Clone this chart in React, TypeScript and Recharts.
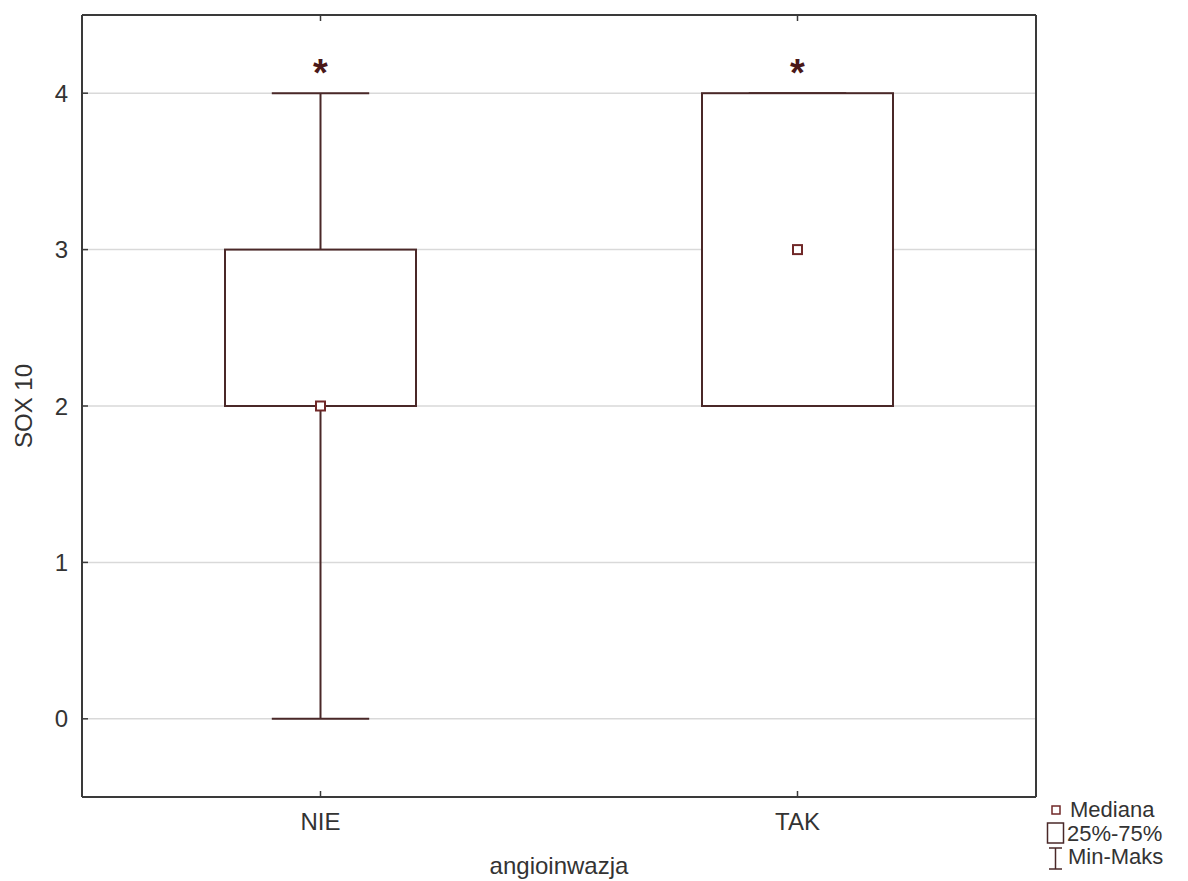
import React from 'react';
import { ComposedChart, Bar, Scatter, XAxis, YAxis, CartesianGrid } from 'recharts';

const categories = ['NIE', 'TAK'];
const minValues = [0, 2];
const q1Values = [2, 2];
const medianValues = [2, 3];
const q3Values = [3, 4];
const maxValues = [4, 4];
const significanceMarks = [4.16, 4.16];
const yTicks = [0, 1, 2, 3, 4];
const yDomain: [number, number] = [-0.5, 4.5];

const data = categories.map((name, i) => ({
  name,
  range: [minValues[i], maxValues[i]],
  min: minValues[i],
  q1: q1Values[i],
  median: medianValues[i],
  q3: q3Values[i],
  max: maxValues[i],
  star: significanceMarks[i],
}));

const FONT = 'Liberation Sans, Arial, sans-serif';
const FRAME = '#3a3a3a';
const BOX = '#4a2828';
const MED = '#702828';
const TEXT = '#333333';

const BoxShape = (props: any) => {
  const { x, y, width, height, payload } = props;
  const top = Math.min(y, y + height);
  const bottom = Math.max(y, y + height);
  const span = payload.max - payload.min;
  const unit = span > 0 ? (bottom - top) / span : 0;
  const py = (v: number) => top + (payload.max - v) * unit;
  const cx = x + width / 2;
  const cap = width * 0.51;
  const yq1 = py(payload.q1);
  const yq3 = py(payload.q3);
  return (
    <g>
      <line x1={cx} x2={cx} y1={py(payload.max)} y2={py(payload.min)} stroke={BOX} strokeWidth={2} />
      <line x1={cx - cap / 2} x2={cx + cap / 2} y1={py(payload.max)} y2={py(payload.max)} stroke={BOX} strokeWidth={2} />
      <line x1={cx - cap / 2} x2={cx + cap / 2} y1={py(payload.min)} y2={py(payload.min)} stroke={BOX} strokeWidth={2} />
      <rect x={x} y={yq3} width={width} height={yq1 - yq3} fill="#ffffff" stroke={BOX} strokeWidth={2} />
    </g>
  );
};

const MedianShape = (props: any) => {
  const { cx, cy } = props;
  const s = 9;
  return <rect x={cx - s / 2} y={cy - s / 2} width={s} height={s} fill="#ffffff" stroke={MED} strokeWidth={2} />;
};

const StarShape = (props: any) => {
  const { cx, cy } = props;
  return (
    <text x={cx} y={cy + 18} textAnchor="middle" fontFamily={FONT} fontWeight="bold" fontSize={38} fill="#4a1818">
      *
    </text>
  );
};

const tickStyle = { fill: TEXT, fontSize: 24, fontFamily: FONT };

export default function App() {
  return (
    <div style={{ position: 'absolute', left: 0, top: 0, width: 1188, height: 881, background: '#ffffff' }}>
      <ComposedChart width={1188} height={881} data={data} margin={{ top: 14, right: 151, bottom: 0, left: 0 }}>
        <CartesianGrid vertical={false} stroke="#d9d9d9" strokeWidth={1.5} />
        <XAxis
          dataKey="name"
          type="category"
          height={84}
          tickSize={-6}
          tickMargin={22}
          tick={tickStyle}
          axisLine={{ stroke: FRAME, strokeWidth: 2 }}
          tickLine={{ stroke: FRAME, strokeWidth: 1.5 }}
          label={{
            content: (p: any) => {
              const vb = p.viewBox || {};
              return (
                <text x={vb.x + vb.width / 2} y={874} textAnchor="middle" fontFamily={FONT} fontSize={24} fill={TEXT}>
                  angioinwazja
                </text>
              );
            },
          }}
        />
        <XAxis
          xAxisId="top"
          dataKey="name"
          type="category"
          orientation="top"
          height={1}
          tickSize={-6}
          tickFormatter={() => ''}
          axisLine={{ stroke: FRAME, strokeWidth: 2 }}
          tickLine={{ stroke: FRAME, strokeWidth: 1.5 }}
        />
        <YAxis
          type="number"
          domain={yDomain}
          ticks={yTicks}
          width={82}
          tickSize={-6}
          tickMargin={20}
          tick={tickStyle}
          axisLine={{ stroke: FRAME, strokeWidth: 2 }}
          tickLine={{ stroke: FRAME, strokeWidth: 1.5 }}
          label={{
            content: (p: any) => {
              const vb = p.viewBox || {};
              const cx = 23;
              const cy = vb.y + vb.height / 2;
              return (
                <text
                  x={cx}
                  y={cy}
                  transform={`rotate(-90 ${cx} ${cy})`}
                  textAnchor="middle"
                  dominantBaseline="central"
                  fontFamily={FONT}
                  fontSize={24}
                  fill={TEXT}
                >
                  SOX 10
                </text>
              );
            },
          }}
        />
        <YAxis
          yAxisId="r"
          type="number"
          orientation="right"
          domain={yDomain}
          ticks={yTicks}
          width={1}
          tickSize={-6}
          tickFormatter={() => ''}
          axisLine={{ stroke: FRAME, strokeWidth: 2 }}
          tickLine={{ stroke: FRAME, strokeWidth: 1.5 }}
        />
        <Bar dataKey="range" barSize={191} isAnimationActive={false} shape={BoxShape} />
        <Scatter dataKey="median" isAnimationActive={false} shape={MedianShape} />
        <Scatter dataKey="star" isAnimationActive={false} shape={StarShape} />
      </ComposedChart>
      <svg width={150} height={90} style={{ position: 'absolute', left: 1040, top: 795 }}>
        <rect x={12} y={11} width={8} height={8} fill="#ffffff" stroke={MED} strokeWidth={1.5} />
        <text x={30} y={22} fontFamily={FONT} fontSize={22} fill={TEXT}>Mediana</text>
        <rect x={7.5} y={28} width={16} height={20} fill="#ffffff" stroke={BOX} strokeWidth={1.5} />
        <text x={27} y={46} fontFamily={FONT} fontSize={22} fill={TEXT}>25%-75%</text>
        <line x1={15.5} x2={15.5} y1={53} y2={74} stroke={BOX} strokeWidth={1.5} />
        <line x1={9} x2={22} y1={53} y2={53} stroke={BOX} strokeWidth={1.5} />
        <line x1={9} x2={22} y1={74} y2={74} stroke={BOX} strokeWidth={1.5} />
        <text x={28} y={69} fontFamily={FONT} fontSize={22} fill={TEXT}>Min-Maks</text>
      </svg>
    </div>
  );
}
